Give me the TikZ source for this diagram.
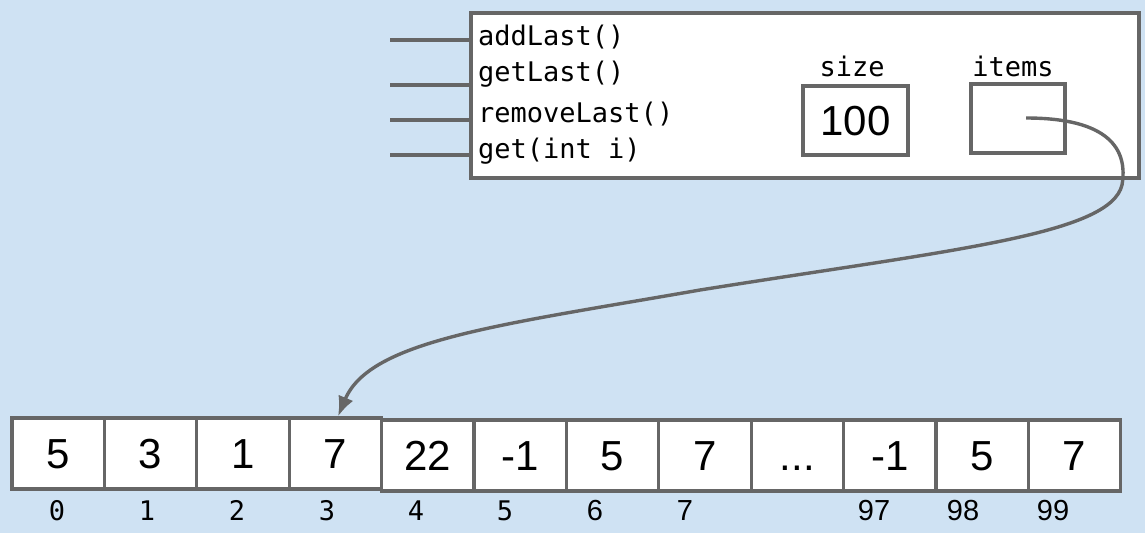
\documentclass[tikz,border=0pt]{standalone}
\usepackage{fontspec}
\setmainfont{Liberation Sans}
\newfontfamily\monof{DejaVu Sans Mono}
\usetikzlibrary{arrows.meta}
\definecolor{bg}{RGB}{207,226,243}
\definecolor{ln}{RGB}{102,102,102}
\begin{document}
\begin{tikzpicture}[x=1pt,y=-1pt,
  monotxt/.style={inner sep=0pt, font=\monof\fontsize{27}{30}\selectfont},
  methodtxt/.style={monotxt, anchor=base west},
  cell/.style={draw=ln, line width=3.2pt, fill=white, minimum width=92.4pt, minimum height=71pt,
    inner sep=0pt, text height=30pt, text depth=0pt, font=\fontsize{42}{48}\selectfont},
  idxmono/.style={anchor=base, inner sep=0pt, font=\monof\fontsize{27}{30}\selectfont},
  idxsans/.style={anchor=base, inner sep=0pt, font=\fontsize{29}{34}\selectfont},
  wire/.style={draw=ln, line width=3.4pt}]
\path[fill=bg] (0,0) rectangle (1145,533);
% object box
\node[draw=ln, line width=3.4pt, fill=white, minimum width=668pt, minimum height=165pt, inner sep=0pt] (obj) at (805,95.5) {};
\coordinate (m1) at (390,40);
\coordinate (m2) at (390,85);
\coordinate (m3) at (390,120);
\coordinate (m4) at (390,155);
\draw[wire] (m1) -- (m1 -| obj.west);
\draw[wire] (m2) -- (m2 -| obj.west);
\draw[wire] (m3) -- (m3 -| obj.west);
\draw[wire] (m4) -- (m4 -| obj.west);
\node[methodtxt] (t1) at (478,45) {addLast()};
\node[methodtxt] (t2) at (478,81) {getLast()};
\node[methodtxt] (t3) at (478,122) {removeLast()};
\node[methodtxt] (t4) at (478,158) {get(int i)};
\node[monotxt, anchor=base] (lsize) at (852,76) {size};
\node[monotxt, anchor=base] (litems) at (1013,76) {items};
\node[cell, minimum width=105pt, minimum height=69pt] (size) at (855.5,120.5) {100};
\node[cell, minimum width=94pt, minimum height=69pt] (items) at (1018,118.5) {};
% array
\node[cell] (c4) at (427.8,455.5) {22};
\node[cell] (c5) at (520.2,455.5) {-1};
\node[cell] (c6) at (612.6,455.5) {5};
\node[cell] (c7) at (705.0,455.5) {7};
\node[cell] (c8) at (797.4,455.5) {...};
\node[cell] (c9) at (889.8,455.5) {-1};
\node[cell] (c10) at (982.2,455.5) {5};
\node[cell] (c11) at (1074.6,455.5) {7};
\node[cell] (c0) at (58.2,453.5) {5};
\node[cell] (c1) at (150.6,453.5) {3};
\node[cell] (c2) at (243.0,453.5) {1};
\node[cell] (c3) at (335.4,453.5) {7};
% indices
\node[idxmono] (i0) at (57,520) {0};
\node[idxmono] (i1) at (147,520) {1};
\node[idxmono] (i2) at (237,520) {2};
\node[idxmono] (i3) at (327,520) {3};
\node[idxmono] (i4) at (416,520) {4};
\node[idxmono] (i5) at (505,520) {5};
\node[idxsans] (i6) at (595,520) {6};
\node[idxsans] (i7) at (685,520) {7};
\node[idxsans] (i97) at (874,520) {97};
\node[idxsans] (i98) at (963,520) {98};
\node[idxsans] (i99) at (1053,520) {99};
% pointer
\coordinate (ptr) at (1026,118);
\coordinate (tgt) at (c3.north -| 338,0);
\draw[wire, -{Latex[length=20pt,width=16pt]}] (ptr) .. controls (1110,118) and (1128,150) .. (1122,185)
  .. controls (1110,235) and (950,250) .. (700,290)
  .. controls (500,325) and (370,340) .. (tgt);
\end{tikzpicture}
\end{document}
